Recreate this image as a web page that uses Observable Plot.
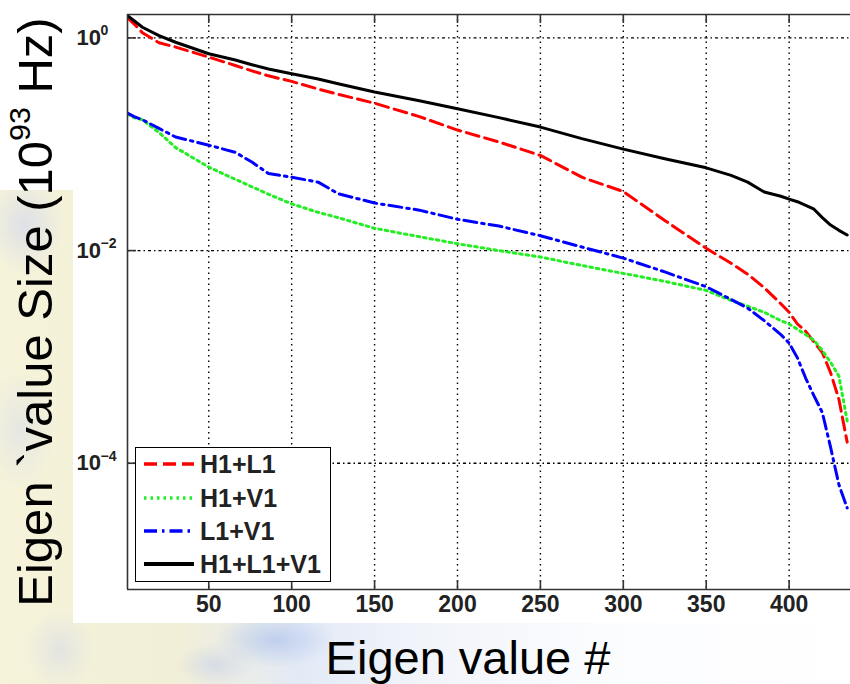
<!DOCTYPE html>
<html><head><meta charset="utf-8">
<script src="https://cdn.jsdelivr.net/npm/d3@7"></script>
<script src="https://cdn.jsdelivr.net/npm/@observablehq/plot@0.6"></script>
<style>
html,body{margin:0;padding:0;background:#fff;}
body{width:850px;height:684px;overflow:hidden;font-family:"Liberation Sans",Arial,sans-serif;}
#page{position:relative;width:850px;height:684px;overflow:hidden;
 background:
  radial-gradient(ellipse 60px 28px at 275px 640px, rgba(170,192,235,0.65), rgba(170,192,235,0)),
  radial-gradient(ellipse 40px 22px at 215px 665px, rgba(185,200,235,0.45), rgba(185,200,235,0)),
  radial-gradient(ellipse 40px 50px at 25px 225px, rgba(205,212,240,0.6), rgba(205,212,240,0)),
  radial-gradient(ellipse 35px 60px at 20px 430px, rgba(210,216,238,0.45), rgba(210,216,238,0)),
  radial-gradient(ellipse 35px 40px at 60px 650px, rgba(205,212,236,0.45), rgba(205,212,236,0)),
  linear-gradient(90deg, #f6f3da 0px, #f2efd8 180px, #e3eaf6 300px, #f1f4fa 420px, #fbfcfe 600px, #ffffff 850px);}
.white{position:absolute;background:#fff;}
#chart{position:absolute;left:0;top:0;}
#ylabel{position:absolute;left:35px;top:312px;transform:translate(-50%,-50%) rotate(-90deg);
 white-space:nowrap;font-size:49px;line-height:1;color:#000;}
#ylabel sup{font-size:0.62em;vertical-align:0;position:relative;top:-0.72em;line-height:0;}
#xlabel{position:absolute;left:468px;top:634px;transform:translateX(-50%);white-space:nowrap;font-size:47px;line-height:1;color:#000;}
#legend{position:absolute;left:135px;top:447px;width:194px;height:133px;border:1px solid #000;background:#fff;}
.lrow{position:absolute;left:0;height:30px;width:194px;}
.lrow svg{position:absolute;left:7px;top:0;}
.lrow span{position:absolute;left:64px;top:50%;transform:translateY(-50%);font-size:25px;font-weight:bold;line-height:1;color:#222;white-space:nowrap;}
</style></head><body>
<div id="page">
 <div class="white" style="left:73px;top:0;width:777px;height:623px"></div>
 <div class="white" style="left:0;top:0;width:73px;height:190px"></div>
 <div id="chart"></div>
 <div id="ylabel">Eigen `value Size (10<sup>93</sup> Hz)</div>
 <div id="xlabel">Eigen value #</div>
 <div id="legend"></div>
</div>
<script>
// ---- data ----
const eigenIndex = [1,5,10,20,30,50,66,76,86,100,116,128,150,177,200,225,250,275,300,325,350,365,375,385,395,400,405,410,415,420,425,430,435];
const seriesNames = ["H1+L1","H1+V1","L1+V1","H1+L1+V1"];
const valsH1L1 = [1.55,1.35,1.12,0.90,0.82,0.66,0.55,0.49,0.44,0.39,0.33,0.295,0.243,0.182,0.136,0.105,0.0785,0.049,0.0359,0.0192,0.0105,0.0076,0.0060,0.00447,0.00316,0.00263,0.00204,0.00174,0.00138,0.0011,0.00071,0.0004,0.000158];
const valsH1V1 = [0.193,0.178,0.17,0.129,0.093,0.061,0.0468,0.0398,0.0339,0.0275,0.0229,0.0204,0.0162,0.0135,0.0116,0.0100,0.0087,0.00724,0.0061,0.00513,0.00422,0.0034,0.0030,0.00263,0.00219,0.00204,0.00182,0.00162,0.00143,0.00115,0.00089,0.00066,0.00025];
const valsL1V1 = [0.196,0.182,0.17,0.141,0.117,0.098,0.084,0.068,0.053,0.049,0.044,0.0343,0.028,0.024,0.0197,0.017,0.0138,0.0108,0.0085,0.0063,0.00457,0.00347,0.00288,0.00219,0.00162,0.00135,0.00098,0.00063,0.00043,0.0003,0.000141,0.000063,0.000038];
const valsH1L1V1 = [1.62,1.45,1.26,1.05,0.91,0.71,0.62,0.56,0.51,0.46,0.41,0.37,0.31,0.257,0.216,0.178,0.145,0.113,0.090,0.073,0.060,0.051,0.044,0.0355,0.0324,0.0305,0.0288,0.0266,0.0245,0.0204,0.0174,0.0155,0.014];
const xTicks = [50,100,150,200,250,300,350,400];
const yTicks = [1,1e-2,1e-4];
const yTickExp = ["0","\u22122","\u22124"];
const xDomain = [1,437];
const yDomain = [6.5e-6,1.66];

// ---- styles ----
const seriesStyle = {
  "H1+L1": {stroke:"#ff0000", dash:"13,6"},
  "H1+V1": {stroke:"#22ee22", dash:"2.5,4"},
  "L1+V1": {stroke:"#0000ff", dash:"13,5,2.5,5"},
  "H1+L1+V1": {stroke:"#000000", dash:null}
};
const seriesVals = [valsH1L1, valsH1V1, valsL1V1, valsH1L1V1];

const W=850, H=684, mL=127, mT=14, mB=95;
const frameH = H - mT - mB, frameW = W - mL;

const lineMarks = seriesNames.map((name,i) => {
  const rows = eigenIndex.map((n,j)=>({n, v: seriesVals[i][j]}));
  const s = seriesStyle[name];
  const o = {x:"n", y:"v", stroke:s.stroke, strokeWidth:3, clip:true, strokeLinejoin:"round"};
  if (s.dash) o.strokeDasharray = s.dash;
  return Plot.line(rows, o);
});

const plot = Plot.plot({
  width: W, height: H,
  marginLeft: mL, marginTop: mT, marginBottom: mB, marginRight: 0,
  style: {background:"transparent", overflow:"visible", fontFamily:"'Liberation Sans', Arial, sans-serif"},
  x: {domain: xDomain, axis: null},
  y: {type:"log", domain: yDomain, axis: null},
  marks: [
    Plot.ruleX(xTicks, {stroke:"#000", strokeWidth:1.4, strokeDasharray:"1.5,4"}),
    Plot.ruleY(yTicks, {stroke:"#000", strokeWidth:1.4, strokeDasharray:"3,3,1.5,3"}),
    ...lineMarks,
    // axis box (left, bottom, top)
    Plot.ruleX([xDomain[0]], {stroke:"#333", strokeWidth:1.6}),
    Plot.ruleY([yDomain[0]], {stroke:"#333", strokeWidth:1.6}),
    Plot.ruleY([yDomain[1]], {stroke:"#333", strokeWidth:1.6}),
    // inward ticks
    Plot.ruleX(xTicks, {stroke:"#333", strokeWidth:1.6, insetTop: frameH - 9}),
    Plot.ruleX(xTicks, {stroke:"#333", strokeWidth:1.6, insetBottom: frameH - 9}),
    Plot.ruleY(yTicks, {stroke:"#333", strokeWidth:1.6, insetRight: frameW - 9}),
    // tick labels
    Plot.text(xTicks, {x:d=>d, frameAnchor:"bottom", dy:22, text:d=>String(d), fontSize:23, fontWeight:"bold", fill:"#222"}),
    Plot.text(yTicks, {y:d=>d, frameAnchor:"left", dx:-51, textAnchor:"start", text:()=> "10", fontSize:22, fontWeight:"bold", fill:"#222"}),
    Plot.text(yTicks, {y:d=>d, frameAnchor:"left", dx:-27, dy:-7, textAnchor:"start", text:(d,i)=> yTickExp[i], fontSize:14, fontWeight:"bold", fill:"#222"})
  ]
});
document.getElementById("chart").appendChild(plot);

// ---- legend ----
const legend = document.getElementById("legend");
const rowCenters = [17, 51, 84, 117];
seriesNames.forEach((name,i)=>{
  const s = seriesStyle[name];
  const row = document.createElement("div");
  row.className = "lrow";
  row.style.top = (rowCenters[i]-15-1) + "px";
  row.innerHTML = `<svg width="52" height="30"><line x1="1" x2="51" y1="15" y2="15" stroke="${s.stroke}" stroke-width="${name==='H1+L1+V1'?4:3.5}" ${s.dash?`stroke-dasharray="${s.dash}"`:''}/></svg><span>${name}</span>`;
  legend.appendChild(row);
});
</script>
</body></html>
